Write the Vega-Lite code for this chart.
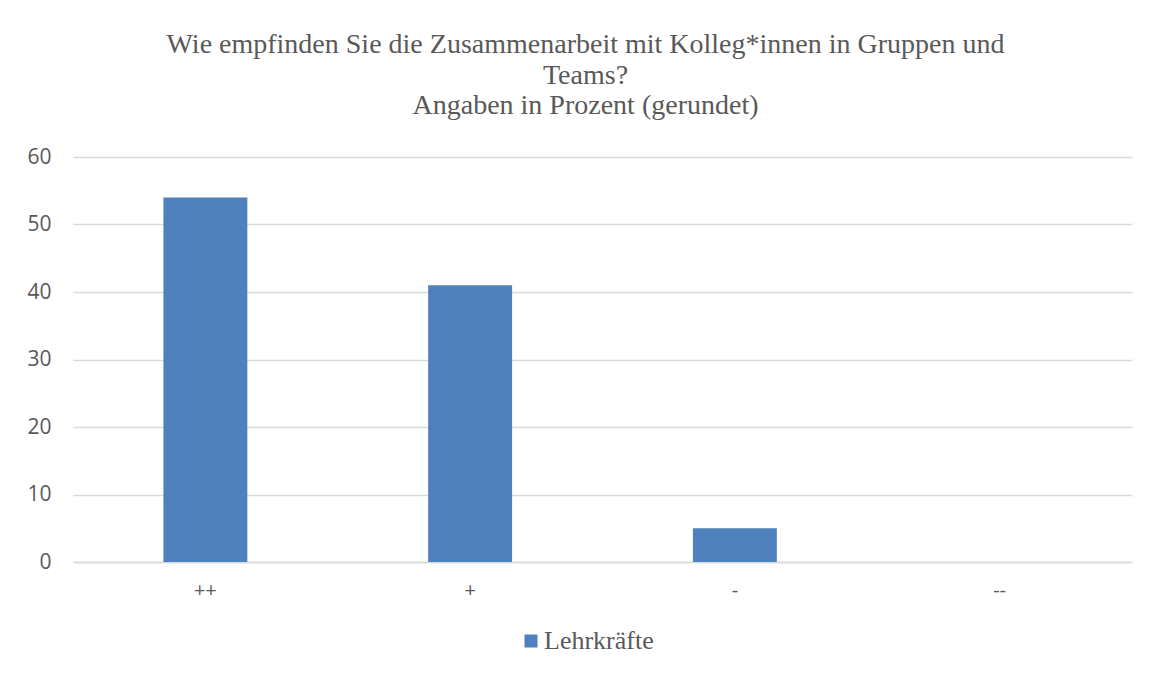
{
  "$schema": "https://vega.github.io/schema/vega-lite/v6.json",
  "width": 1059,
  "height": 405,
  "autosize": {"type": "none"},
  "padding": {"left": 73, "top": 157, "right": 17, "bottom": 115},
  "background": "white",
  "title": {
    "text": ["Wie empfinden Sie die Zusammenarbeit mit Kolleg*innen in Gruppen und", "Teams?", "Angaben in Prozent (gerundet)"],
    "font": "Liberation Serif",
    "fontSize": 28,
    "fontWeight": "normal",
    "color": "#595959",
    "anchor": "middle",
    "lineHeight": 30.5,
    "dx": -17,
    "offset": 26
  },
  "data": {
    "values": [
      {"kategorie": "++", "wert": 54, "gruppe": "Lehrkräfte"},
      {"kategorie": "+", "wert": 41, "gruppe": "Lehrkräfte"},
      {"kategorie": "-", "wert": 5, "gruppe": "Lehrkräfte"},
      {"kategorie": "--", "wert": 0, "gruppe": "Lehrkräfte"}
    ]
  },
  "mark": {"type": "bar"},
  "encoding": {
    "x": {
      "field": "kategorie",
      "type": "nominal",
      "sort": ["++", "+", "-", "--"],
      "scale": {"paddingInner": 0.683, "paddingOuter": 0.3415},
      "axis": {
        "title": null,
        "labelAngle": 0,
        "labelFont": "Open Sans",
        "labelFontSize": 20,
        "labelColor": "#595959",
        "labelPadding": 18,
        "ticks": false,
        "domain": true,
        "domainColor": "#D9D9D9",
        "domainWidth": 1.5
      }
    },
    "y": {
      "field": "wert",
      "type": "quantitative",
      "scale": {"domain": [0, 60]},
      "axis": {
        "title": null,
        "values": [0, 10, 20, 30, 40, 50, 60],
        "labelFont": "Open Sans",
        "labelFontSize": 21,
        "labelColor": "#595959",
        "labelPadding": 22,
        "ticks": false,
        "domain": false,
        "gridColor": "#D9D9D9",
        "gridWidth": 1.5
      }
    },
    "color": {
      "field": "gruppe",
      "type": "nominal",
      "scale": {"range": ["#4F81BD"]},
      "legend": {
        "title": null,
        "orient": "none",
        "legendX": 445,
        "legendY": 471,
        "symbolType": "square",
        "symbolSize": 169,
        "symbolStrokeWidth": 0,
        "symbolOpacity": 1,
        "labelFont": "Liberation Serif",
        "labelFontSize": 26,
        "labelColor": "#595959",
        "labelOffset": 0
      }
    }
  },
  "config": {"view": {"stroke": null}}
}
